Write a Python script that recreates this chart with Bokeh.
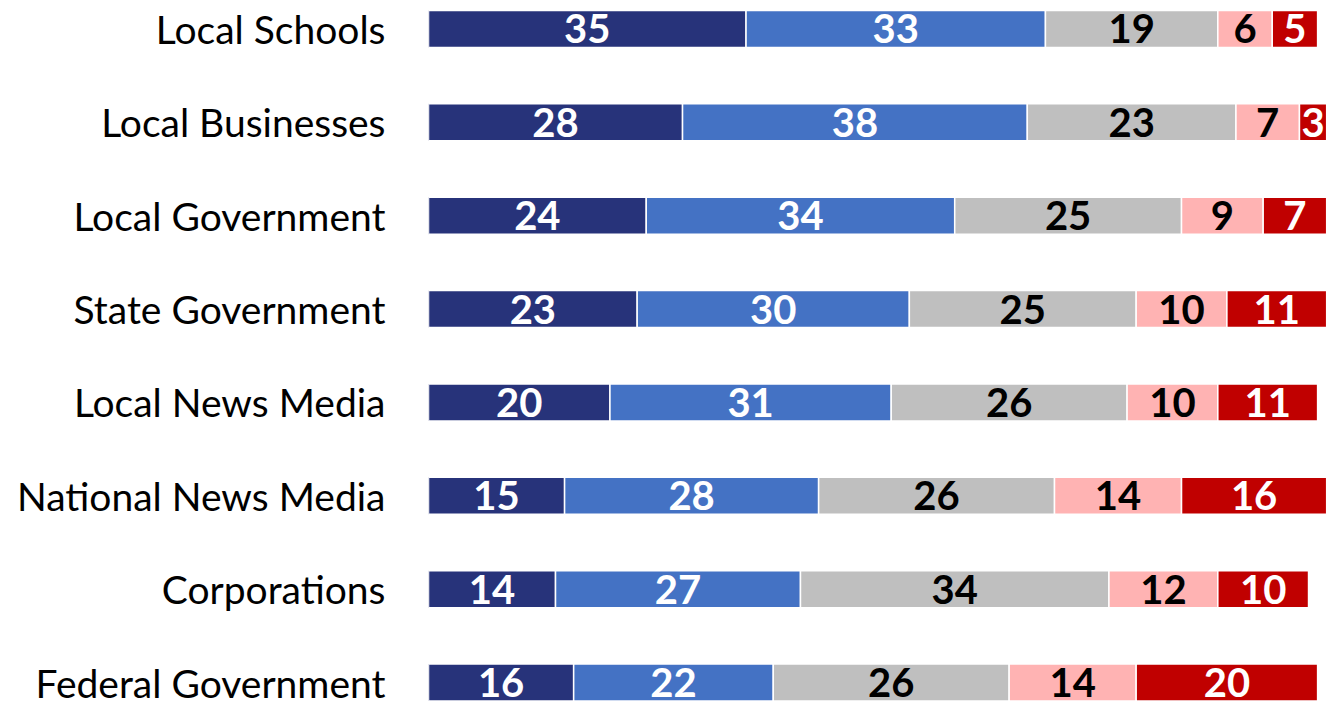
import numpy as np
from bokeh.plotting import figure
from bokeh.models import ColumnDataSource, Range1d, FixedTicker
from bokeh.embed import file_html
from bokeh.resources import INLINE
from bokeh.core.properties import value

categories = ["Local Schools", "Local Businesses", "Local Government",
              "State Government", "Local News Media", "National News Media",
              "Corporations", "Federal Government"]
great_deal = [35, 28, 24, 23, 20, 15, 14, 16]
fair_amount = [33, 38, 34, 30, 31, 28, 27, 22]
neutral = [19, 23, 25, 25, 26, 26, 34, 26]
not_much = [6, 7, 9, 10, 10, 14, 12, 14]
none_at_all = [5, 3, 7, 11, 11, 16, 10, 20]

series = [great_deal, fair_amount, neutral, not_much, none_at_all]
colors = ["#27337A", "#4472C4", "#BFBFBF", "#FFB3B3", "#C00000"]
text_colors = ["white", "white", "black", "black", "white"]

p = figure(width=1328, height=708, output_backend="svg", toolbar_location=None,
           x_range=Range1d(0, 99.2), y_range=Range1d(7.278, -0.305),
           min_border_left=428, min_border_right=0, min_border_top=0,
           min_border_bottom=0)
p.outline_line_color = None
p.xgrid.visible = False
p.ygrid.visible = False
p.xaxis.visible = False

ys = np.arange(len(categories))
left = np.zeros(len(categories))
for vals, col, tcol in zip(series, colors, text_colors):
    vals = np.array(vals, dtype=float)
    right = left + vals
    src = ColumnDataSource(dict(y=ys, left=left, right=right,
                                mid=(left + right) / 2,
                                lab=[str(int(v)) for v in vals]))
    p.hbar(y="y", left="left", right="right", height=0.396, source=src,
           fill_color=col, line_color="white", line_width=1.5)
    p.text(x="mid", y="y", text="lab", source=src, text_color=tcol,
           text_font=value("Lato"), text_font_style="bold",
           text_font_size="40px", text_align="center",
           text_baseline="middle")
    left = right

yax = p.yaxis[0]
yax.ticker = FixedTicker(ticks=list(range(len(categories))))
yax.major_label_overrides = {i: c for i, c in enumerate(categories)}
yax.axis_line_color = None
yax.major_tick_line_color = None
yax.minor_tick_line_color = None
yax.major_tick_out = 0
yax.major_tick_in = 0
yax.major_label_standoff = 43
yax.major_label_text_font = "Lato"
yax.major_label_text_font_size = "39px"
yax.major_label_text_color = "black"

open("out.html", "w").write(file_html(p, INLINE))
